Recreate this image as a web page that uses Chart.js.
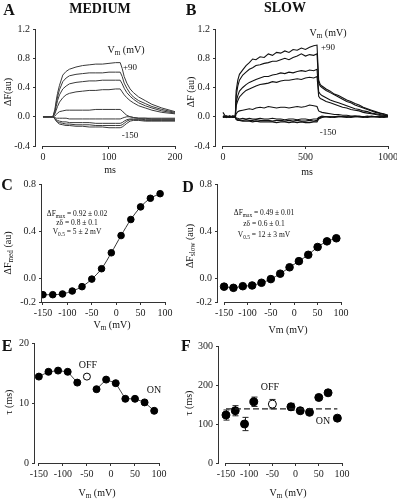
<!DOCTYPE html>
<html>
<head>
<meta charset="utf-8">
<script src="https://cdn.jsdelivr.net/npm/chart.js@4.4.1/dist/chart.umd.min.js"></script>
<style>
body{margin:0;background:#fff;}
#fig{position:relative;width:397px;height:499px;overflow:hidden;font-family:"Liberation Serif","DejaVu Serif",serif;color:#111;}
#fig canvas{position:absolute;left:0;top:0;}
.t{position:absolute;transform:translate(-50%,-50%);white-space:nowrap;font-size:10px;line-height:1;}
.r{transform:translate(-50%,-50%) rotate(-90deg);}
.big{font-weight:bold;font-size:16px;}
.head{font-weight:bold;font-size:14px;}
.ann{font-size:7.5px;}
sub{font-size:72%;vertical-align:-2px;line-height:0;}
</style>
</head>
<body>
<div id="fig">
  <canvas id="cA" width="460" height="540"></canvas>
  <canvas id="cB" width="460" height="540"></canvas>
  <canvas id="cC" width="460" height="540"></canvas>
  <canvas id="cD" width="460" height="540"></canvas>
  <canvas id="cE" width="460" height="540"></canvas>
  <canvas id="cF" width="460" height="540"></canvas>

  <div class="t big" style="left:9px;top:10px">A</div>
  <div class="t head" style="left:100px;top:9px">MEDIUM</div>
  <div class="t big" style="left:191px;top:10px">B</div>
  <div class="t head" style="left:285px;top:8px">SLOW</div>
  <div class="t r" style="left:8px;top:92px">ΔF(au)</div>
  <div class="t r" style="left:191px;top:92px">ΔF (au)</div>
  <div class="t" style="left:126px;top:50px">V<sub>m</sub> (mV)</div>
  <div class="t" style="left:130px;top:67px;font-size:9px">+90</div>
  <div class="t" style="left:130px;top:135px;font-size:9px">-150</div>
  <div class="t" style="left:328px;top:33px">V<sub>m</sub> (mV)</div>
  <div class="t" style="left:328px;top:47px;font-size:9px">+90</div>
  <div class="t" style="left:328px;top:132px;font-size:9px">-150</div>
  <div class="t" style="left:110px;top:170px">ms</div>
  <div class="t" style="left:307px;top:172px">ms</div>

  <div class="t big" style="left:7px;top:185px">C</div>
  <div class="t big" style="left:188px;top:187px">D</div>
  <div class="t r" style="left:8px;top:253px">ΔF<sub>med</sub> (au)</div>
  <div class="t r" style="left:190px;top:246px">ΔF<sub>slow</sub> (au)</div>
  <div class="t ann" style="left:77px;top:214px">ΔF<sub>max</sub> = 0.92 ± 0.02</div>
  <div class="t ann" style="left:77px;top:223px">zδ = 0.8 ± 0.1</div>
  <div class="t ann" style="left:77px;top:232px">V<sub>0.5</sub> = 5 ± 2 mV</div>
  <div class="t ann" style="left:264px;top:213px">ΔF<sub>max</sub> = 0.49 ± 0.01</div>
  <div class="t ann" style="left:264px;top:224px">zδ = 0.6 ± 0.1</div>
  <div class="t ann" style="left:264px;top:235px">V<sub>0.5</sub> = 12 ± 3 mV</div>
  <div class="t" style="left:112px;top:325px">V<sub>m</sub> (mV)</div>
  <div class="t" style="left:288px;top:330px">Vm (mV)</div>

  <div class="t big" style="left:7px;top:346px">E</div>
  <div class="t big" style="left:186px;top:346px">F</div>
  <div class="t r" style="left:9px;top:402px">τ (ms)</div>
  <div class="t r" style="left:189px;top:403px">τ (ms)</div>
  <div class="t" style="left:88px;top:365px">OFF</div>
  <div class="t" style="left:154px;top:390px">ON</div>
  <div class="t" style="left:270px;top:387px">OFF</div>
  <div class="t" style="left:323px;top:421px">ON</div>
  <div class="t" style="left:97px;top:493px">V<sub>m</sub> (mV)</div>
  <div class="t" style="left:288px;top:493px">V<sub>m</sub> (mV)</div>
</div>
<script>
// ---- data ----
// A: medium component traces (ms, au)
const tMed=[0,10,15,18,20,22,25,30,35,40,50,60,70,80,90,100,110,117,120,123,127,132,137,145,155,165,180,200];
const med1=[0,0,0,0.1,0.22,0.32,0.43,0.57,0.62,0.65,0.68,0.70,0.71,0.72,0.72,0.73,0.74,0.74,0.66,0.55,0.46,0.38,0.33,0.27,0.22,0.17,0.12,0.07];
const med2=[0,0,0,0.08,0.18,0.27,0.37,0.48,0.53,0.56,0.58,0.59,0.6,0.6,0.6,0.61,0.61,0.61,0.55,0.46,0.39,0.32,0.27,0.22,0.18,0.14,0.1,0.06];
const med3=[0,0,0,0.06,0.14,0.22,0.3,0.38,0.42,0.45,0.47,0.48,0.49,0.49,0.5,0.5,0.5,0.5,0.45,0.39,0.33,0.28,0.24,0.19,0.15,0.12,0.08,0.05];
const med4=[0,0,0,0.04,0.09,0.14,0.2,0.26,0.3,0.32,0.34,0.35,0.36,0.36,0.37,0.37,0.38,0.38,0.34,0.3,0.26,0.22,0.19,0.15,0.12,0.09,0.06,0.04];
const med5=[0,0,0,0.01,0.03,0.05,0.07,0.08,0.09,0.09,0.09,0.09,0.09,0.1,0.1,0.1,0.1,0.1,0.08,0.05,0.02,0.0,-0.01,-0.02,-0.02,-0.02,-0.02,-0.02];
const med6=[0,0,0,-0.01,-0.02,-0.02,-0.02,-0.02,-0.02,-0.03,-0.03,-0.03,-0.03,-0.03,-0.03,-0.03,-0.03,-0.03,-0.02,-0.01,0.0,0.0,-0.01,-0.02,-0.02,-0.03,-0.03,-0.03];
const med7=[0,0,0,-0.02,-0.04,-0.05,-0.06,-0.07,-0.07,-0.08,-0.08,-0.08,-0.08,-0.09,-0.09,-0.09,-0.09,-0.09,-0.08,-0.06,-0.04,-0.03,-0.03,-0.03,-0.04,-0.04,-0.04,-0.04];
const med8=[0,0,0,-0.03,-0.05,-0.07,-0.08,-0.09,-0.1,-0.1,-0.11,-0.11,-0.11,-0.12,-0.12,-0.12,-0.12,-0.12,-0.11,-0.09,-0.06,-0.04,-0.04,-0.04,-0.05,-0.05,-0.05,-0.05];
const med9=[0,0,0,-0.03,-0.06,-0.08,-0.1,-0.11,-0.12,-0.12,-0.13,-0.13,-0.14,-0.14,-0.14,-0.15,-0.15,-0.15,-0.14,-0.12,-0.09,-0.06,-0.05,-0.05,-0.06,-0.06,-0.06,-0.06];

// B: slow component traces (ms, au)
const tSlow=[0,20,40,60,75,80,90,100,120,140,160,180,200,225,250,275,300,325,350,375,400,425,450,475,500,525,550,570,580,590,600,625,650,675,700,725,750,775,800,825,850,875,900,925,950,975,1000];
const slow1=[0.06,-0.01,0.01,0.00,0.01,0.35,0.50,0.58,0.64,0.70,0.74,0.79,0.78,0.82,0.81,0.86,0.84,0.88,0.87,0.90,0.88,0.92,0.91,0.94,0.92,0.95,0.97,0.98,0.50,0.44,0.42,0.38,0.35,0.31,0.29,0.26,0.23,0.21,0.18,0.16,0.13,0.11,0.09,0.07,0.05,0.04,0.02];
const slow2=[0.00,0.01,-0.01,0.01,0.00,0.28,0.42,0.50,0.57,0.61,0.65,0.67,0.70,0.71,0.73,0.74,0.76,0.76,0.78,0.80,0.78,0.81,0.83,0.86,0.83,0.85,0.84,0.86,0.46,0.42,0.40,0.36,0.33,0.30,0.27,0.24,0.21,0.19,0.16,0.14,0.12,0.10,0.08,0.06,0.05,0.03,0.02];
const slow3=[0.01,0.00,0.01,-0.01,0.00,0.20,0.29,0.35,0.40,0.44,0.47,0.49,0.51,0.53,0.55,0.55,0.57,0.58,0.60,0.59,0.61,0.60,0.62,0.63,0.62,0.64,0.63,0.65,0.34,0.31,0.29,0.26,0.23,0.21,0.19,0.17,0.15,0.13,0.11,0.10,0.08,0.07,0.05,0.04,0.03,0.02,0.01];
const slow4=[-0.01,0.01,0.00,0.01,0.00,0.15,0.22,0.27,0.32,0.36,0.38,0.40,0.42,0.44,0.45,0.46,0.48,0.47,0.49,0.50,0.50,0.51,0.52,0.51,0.53,0.54,0.53,0.55,0.28,0.25,0.24,0.21,0.19,0.17,0.15,0.13,0.12,0.10,0.09,0.08,0.06,0.05,0.04,0.03,0.02,0.02,0.01];
const slow5=[0.00,-0.01,0.01,0.00,-0.01,0.04,0.07,0.08,0.09,0.10,0.11,0.10,0.12,0.13,0.12,0.14,0.13,0.12,0.13,0.13,0.12,0.13,0.14,0.13,0.14,0.16,0.15,0.14,0.08,0.07,0.06,0.05,0.04,0.03,0.03,0.02,0.02,0.01,0.01,0.01,0.00,0.01,0.00,0.00,0.01,0.00,0.00];
const slow6=[0.01,0.00,-0.01,0.01,0.00,-0.02,-0.02,-0.03,-0.02,-0.03,-0.02,-0.03,-0.03,-0.02,-0.03,-0.03,-0.02,-0.03,-0.03,-0.04,-0.03,-0.03,-0.04,-0.03,-0.03,-0.04,-0.03,-0.03,-0.01,0.00,0.01,0.00,-0.01,0.00,0.01,0.00,-0.01,0.00,0.01,0.00,-0.01,0.00,0.01,0.00,-0.01,0.00,0.01];
const slow7=[0.00,0.01,0.00,-0.01,0.00,-0.03,-0.04,-0.04,-0.05,-0.04,-0.05,-0.05,-0.04,-0.05,-0.05,-0.05,-0.06,-0.05,-0.05,-0.06,-0.05,-0.06,-0.05,-0.06,-0.06,-0.05,-0.06,-0.05,-0.02,-0.01,0.00,0.00,0.00,-0.01,0.00,0.00,0.00,-0.01,0.00,0.00,0.00,-0.01,0.00,0.00,0.00,-0.01,0.00];
const slow8=[-0.01,0.00,0.00,0.00,0.01,-0.04,-0.05,-0.05,-0.06,-0.06,-0.06,-0.07,-0.06,-0.07,-0.07,-0.07,-0.07,-0.08,-0.07,-0.07,-0.08,-0.07,-0.08,-0.07,-0.08,-0.08,-0.07,-0.07,-0.03,-0.02,-0.01,0.00,0.00,0.00,0.00,0.00,0.00,0.00,0.00,0.00,0.00,0.00,0.00,0.00,0.00,0.00,0.00];

// C-F: voltage steps (mV)
const vSteps=[-150,-130,-110,-90,-70,-50,-30,-10,10,30,50,70,90];
const fMed=[-0.138,-0.138,-0.132,-0.107,-0.07,-0.006,0.082,0.217,0.363,0.499,0.606,0.679,0.718];
const fSlow=[-0.07,-0.08,-0.066,-0.06,-0.037,-0.006,0.04,0.094,0.146,0.2,0.266,0.314,0.34];
const tauMedOn=[14.4,15.2,15.4,15.2,13.4,null,12.3,13.9,13.3,10.7,10.7,10.1,8.7];
const vOff=[-50];
const tauMedOff=[14.4];
const tauSlowOn=[123,134,100,157,null,null,null,144,134,130,168,180,115];
const tauSlowOnErr=[13,13,17,12,null,null,null,9,0,0,0,0,0];
const tauSlowOff=[151];
const tauSlowOffErr=[12];
const tauSlowMean=139;

// tick labels
const ticksTrace=[-0.4,0,0.4,0.8,1.2];
const ticksMedT=[0,100,200];
const ticksSlowT=[0,500,1000];
const ticksV=[-150,-100,-50,0,50,100];
const ticksF=[-0.2,0,0.4,0.8];
const ticksTauMed=[0,10,20];
const ticksTauSlow=[0,100,200,300];

// ---- drawing ----
const W=460,H=540,YW=30,XH=30;
const font={family:'"Liberation Serif", serif',size:10};

// plain axis lines, x line only between first and last tick (as in the figure)
const axisLines={id:'axisLines',afterDraw(c){
  const a=c.chartArea,x=c.scales.x,t=x.ticks,ctx=c.ctx;
  ctx.save();ctx.strokeStyle='#333';ctx.lineWidth=1;ctx.beginPath();
  ctx.moveTo(a.left-0.5,a.top);ctx.lineTo(a.left-0.5,a.bottom);
  ctx.moveTo(x.getPixelForValue(t[0].value),a.bottom+0.5);
  ctx.lineTo(x.getPixelForValue(t[t.length-1].value),a.bottom+0.5);
  ctx.stroke();ctx.restore();
}};

// error bars for panel F
const errorBars={id:'errorBars',beforeDatasetsDraw(c){
  const x=c.scales.x,y=c.scales.y,ctx=c.ctx;
  ctx.save();ctx.strokeStyle='#222';ctx.lineWidth=1;
  const draw=(xs,ys,es)=>xs.forEach((v,i)=>{
    if(ys[i]==null||!es[i]) return;
    let px=Math.round(x.getPixelForValue(v))+0.5;
    let top=y.getPixelForValue(ys[i]+es[i]),bot=y.getPixelForValue(ys[i]-es[i]);
    ctx.beginPath();
    ctx.moveTo(px,top);ctx.lineTo(px,bot);
    ctx.moveTo(px-3,top);ctx.lineTo(px+3,top);
    ctx.moveTo(px-3,bot);ctx.lineTo(px+3,bot);
    ctx.stroke();
  });
  draw(vSteps,tauSlowOn,tauSlowOnErr);
  draw(vOff,tauSlowOff,tauSlowOffErr);
  ctx.restore();
}};

function pts(xs,ys){ return xs.map((v,i)=>({x:v,y:ys[i]})); }

function makeChart(id,area,xMin,xMax,xTicks,yMin,yMax,yTicks,yFmt,datasets,extra){
  return new Chart(document.getElementById(id),{
    type:'line',
    data:{datasets},
    options:{
      responsive:false,animation:false,events:[],
      layout:{padding:{left:area[0]-YW,top:area[1],right:W-area[2],bottom:H-area[3]-XH}},
      plugins:{legend:{display:false},tooltip:{enabled:false}},
      elements:{line:{borderWidth:1}},
      scales:{
        x:{type:'linear',min:xMin,max:xMax,
          afterFit:s=>{s.height=XH},
          afterBuildTicks:s=>{s.ticks=xTicks.map(v=>({value:v}))},
          ticks:{font,color:'#222',padding:2,autoSkip:false,maxRotation:0,callback:v=>String(v)},
          grid:{drawOnChartArea:false,tickLength:3,color:'#333'},
          border:{display:false}},
        y:{type:'linear',min:yMin,max:yMax,
          afterFit:s=>{s.width=YW},
          afterBuildTicks:s=>{s.ticks=yTicks.map(v=>({value:v}))},
          ticks:{font,color:'#222',padding:3,autoSkip:false,callback:yFmt},
          grid:{drawOnChartArea:false,tickLength:3,color:'#333'},
          border:{display:false}}
      }
    },
    plugins:[axisLines].concat(extra||[])
  });
}

const fmt1=v=>v.toFixed(1);
const fmt0=v=>String(v);
const trace=(xs,ys,col,w)=>({data:pts(xs,ys),borderColor:col,borderWidth:w,pointRadius:0,tension:0,fill:false});

// A
makeChart('cA',[36,29,175,146],-10.6,200,ticksMedT,-0.4,1.2,ticksTrace,fmt1,
  [med1,med2,med3,med4,med5,med6,med7,med8,med9].map(a=>trace(tMed,a,'#3a3a3a',1)));

// B
makeChart('cB',[216,29,388,146],-42,1000,ticksSlowT,-0.4,1.2,ticksTrace,fmt1,
  [slow1,slow2,slow3,slow4,slow5,slow6,slow7,slow8].map(a=>trace(tSlow,a,'#111',1.1)));

// C
makeChart('cC',[42,184,165,302],-152,100,ticksV,-0.2,0.8,ticksF,fmt1,[
  {data:pts(vSteps,fMed),borderColor:'#333',borderWidth:1,tension:0.3,
   pointRadius:3.3,pointBackgroundColor:'#000',pointBorderColor:'#000'}]);

// D
makeChart('cD',[218,184,341,302],-163,100,ticksV,-0.2,0.8,ticksF,fmt1,[
  {data:pts(vSteps,fSlow),borderColor:'#333',borderWidth:1,tension:0.3,
   pointRadius:3.8,pointBackgroundColor:'#000',pointBorderColor:'#000'}]);

// E
makeChart('cE',[35,343,159,463],-158,100,ticksV,0,20,ticksTauMed,fmt0,[
  {data:pts(vSteps,tauMedOn),borderColor:'#444',borderWidth:1,spanGaps:false,tension:0,
   pointRadius:3.5,pointBackgroundColor:'#000',pointBorderColor:'#000'},
  {data:pts(vOff,tauMedOff),showLine:false,pointRadius:3.5,
   pointBackgroundColor:'#fff',pointBorderColor:'#000',pointBorderWidth:1}]);

// F
makeChart('cF',[219,346,342,463],-165,100,ticksV,0,300,ticksTauSlow,fmt0,[
  {data:[{x:vSteps[0],y:tauSlowMean},{x:vSteps[vSteps.length-1],y:tauSlowMean}],
   borderColor:'#222',borderWidth:1.2,borderDash:[6,3],pointRadius:0},
  {data:pts(vSteps,tauSlowOn),showLine:false,pointRadius:4,
   pointBackgroundColor:'#000',pointBorderColor:'#000'},
  {data:pts(vOff,tauSlowOff),showLine:false,pointRadius:4,
   pointBackgroundColor:'#fff',pointBorderColor:'#000',pointBorderWidth:1}],[errorBars]);
</script>
</body>
</html>
